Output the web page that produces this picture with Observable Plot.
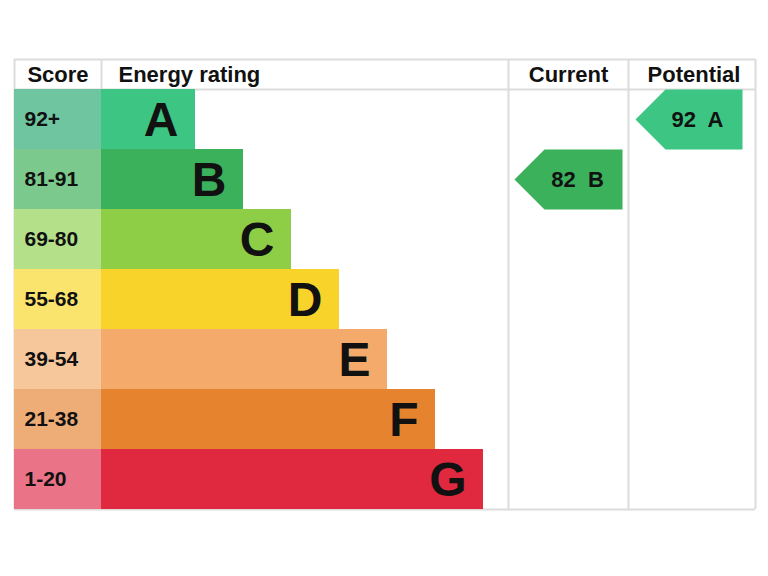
<!DOCTYPE html>
<html><head><meta charset="utf-8">
<script src="https://cdn.jsdelivr.net/npm/d3@7"></script>
<script src="https://cdn.jsdelivr.net/npm/@observablehq/plot@0.6"></script>
<style>body{margin:0;background:#fff;} svg{display:block;font-family:"Liberation Sans",Arial,sans-serif;}</style>
</head><body><div id="chart"></div>
<script>
const ratings = ["A","B","C","D","E","F","G"];
const scoreRanges = ["92+","81-91","69-80","55-68","39-54","21-38","1-20"];
const bandColors = ["#3cc583","#3cb15c","#8dce46","#f8d32a","#f3aa6b","#e5832f","#e0293f"];
const scoreColors = ["#6fc5a0","#7bc98c","#b4e08a","#fbe46e","#f7c79c","#eeac77","#ea7388"];
const headers = ["Score","Energy rating","Current","Potential"];
const currentScore = 82, currentRating = "B";
const potentialScore = 92, potentialRating = "A";

// layout (pixel units on x, row units on y)
const colEdges = {left:14, score:101, rating:508, current:628, right:755};
const barBase = 94, barStep = 48;

const rows = ratings.map((r,i)=>({r, i, score: scoreRanges[i], band: bandColors[i], sc: scoreColors[i],
  end: colEdges.score + barBase + barStep*i}));

function arrow(id, rating, x0, x1, color){
  const i = ratings.indexOf(rating);
  const tip = 30;
  return [
    {id,x:x0,y:i+0.5,color},{id,x:x0+tip,y:i,color},{id,x:x1,y:i,color},
    {id,x:x1,y:i+1,color},{id,x:x0+tip,y:i+1,color},{id,x:x0,y:i+0.5,color}
  ];
}
const curPts = arrow("cur", currentRating, 514, 622, bandColors[ratings.indexOf(currentRating)]);
const potPts = arrow("pot", potentialRating, 635, 742, bandColors[ratings.indexOf(potentialRating)]);
const pointers = [
  {label: `${currentScore}  ${currentRating}`, x:577, y: ratings.indexOf(currentRating)+0.5},
  {label: `${potentialScore}  ${potentialRating}`, x:697, y: ratings.indexOf(potentialRating)+0.5}
];

const headerMid = [
  {t:headers[0], x:(colEdges.left+colEdges.score)/2},
  {t:headers[2], x:(colEdges.rating+colEdges.current)/2},
  {t:headers[3], x:(colEdges.current+colEdges.right)/2+2}
];
const headerStart = [{t:headers[1], x:colEdges.score+17}];

const grid = "#dcdcdc";
const chart = Plot.plot({
  width:768, height:576, margin:0,
  x:{type:"linear", domain:[0,768], range:[0,768], axis:null},
  y:{type:"linear", domain:[-0.5,7], range:[59,509], axis:null},
  marks:[
    Plot.ruleY([-0.5,0,7], {x1:colEdges.left, x2:colEdges.right, stroke:grid, strokeWidth:2}),
    Plot.ruleX([colEdges.left, colEdges.rating, colEdges.current, colEdges.right], {y1:-0.5, y2:7, stroke:grid, strokeWidth:2}),
    Plot.ruleX([colEdges.score], {y1:-0.5, y2:0, stroke:grid, strokeWidth:2}),
    Plot.rect(rows, {x1:colEdges.left, x2:colEdges.score, y1:d=>d.i, y2:d=>d.i+1, fill:d=>d.sc}),
    Plot.rect(rows, {x1:colEdges.score, x2:d=>d.end, y1:d=>d.i, y2:d=>d.i+1, fill:d=>d.band}),
    Plot.text(rows, {x:24, y:d=>d.i+0.5, text:d=>d.score, textAnchor:"start", fontSize:21, fontWeight:"bold", fill:"#111", letterSpacing:"1.5px"}),
    Plot.text(rows, {x:d=>d.end-17, y:d=>d.i+0.5, text:"r", textAnchor:"end", fontSize:48, fontWeight:"bold", fill:"#111", dy:1}),
    Plot.line(curPts, {x:"x", y:"y", fill:"color", stroke:"none"}),
    Plot.line(potPts, {x:"x", y:"y", fill:"color", stroke:"none"}),
    Plot.text(pointers, {x:"x", y:"y", text:"label", fontSize:22, fontWeight:"bold", fill:"#111"}),
    Plot.text(headerMid, {x:"x", y:-0.25, text:"t", textAnchor:"middle", fontSize:22, fontWeight:"bold", fill:"#111", letterSpacing:"1.3px"}),
    Plot.text(headerStart, {x:"x", y:-0.25, text:"t", textAnchor:"start", fontSize:22, fontWeight:"bold", fill:"#111", letterSpacing:"1.1px"})
  ]
});
document.getElementById("chart").append(chart);
</script></body></html>
